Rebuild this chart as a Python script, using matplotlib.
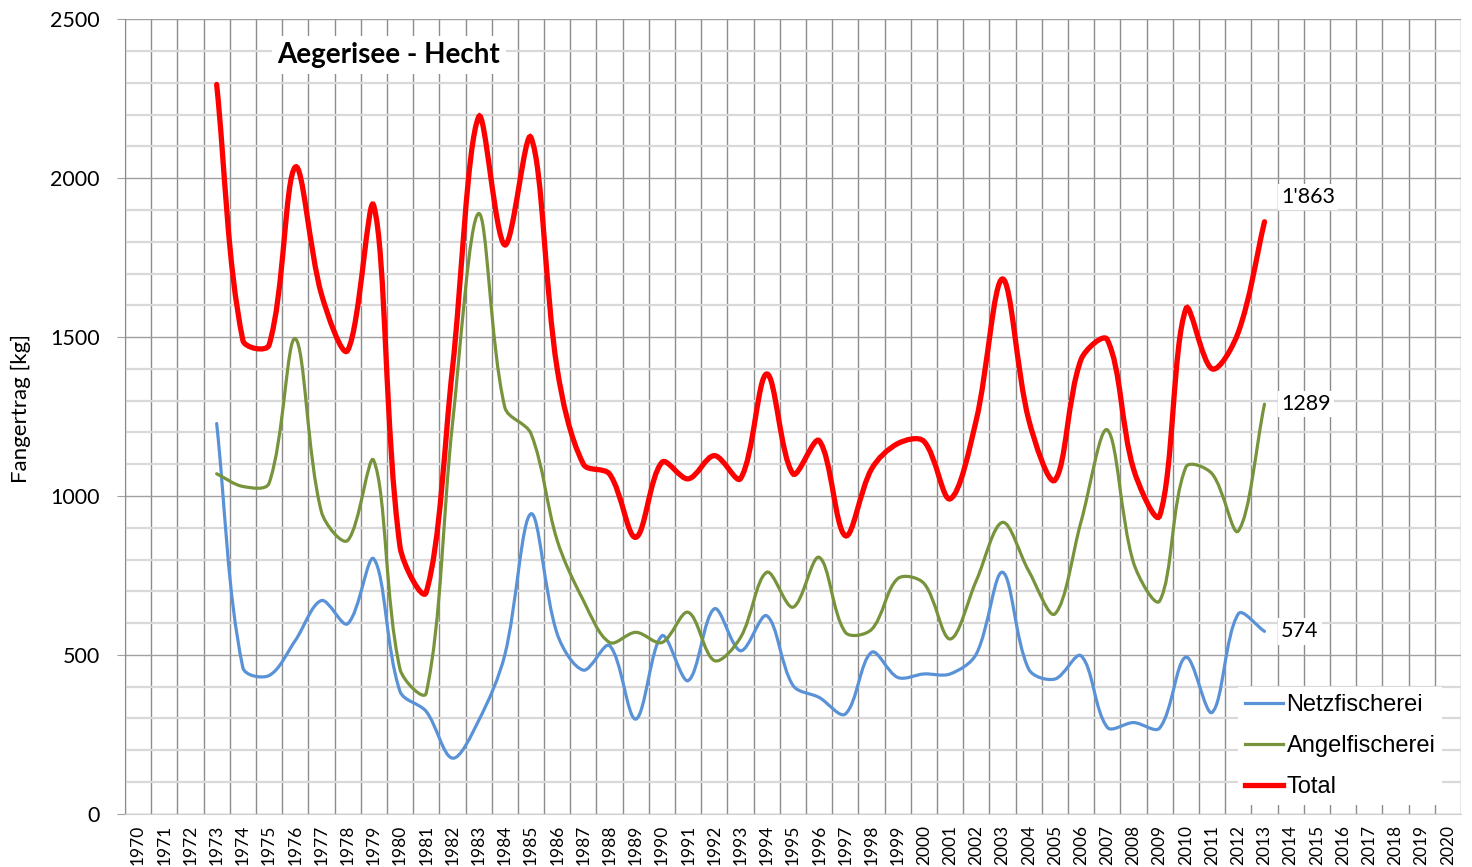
import numpy as np
import matplotlib.pyplot as plt
from matplotlib.path import Path
from matplotlib.patches import PathPatch
from matplotlib.lines import Line2D
from matplotlib.ticker import MultipleLocator

# category axis 1970..2020, data 1973..2013
axis_years = list(range(1970, 2021))
data_years = list(range(1973, 2014))

netz = [1228, 460, 435, 545, 671, 598, 802, 385, 322, 175, 293, 500, 944, 566,
        452, 529, 298, 560, 419, 645, 513, 623, 404, 366, 314, 508, 429, 440,
        440, 503, 760, 455, 424, 497, 272, 287, 270, 493, 319, 629, 574]
angel = [1070, 1030, 1040, 1495, 950, 860, 1111, 455, 380, 1225, 1889, 1279, 1196,
         860, 671, 539, 571, 539, 634, 482, 555, 760, 650, 807, 571, 580, 740, 725,
         550, 734, 917, 764, 629, 920, 1208, 790, 670, 1091, 1070, 890, 1289]
total = [2295, 1490, 1475, 2035, 1635, 1458, 1913, 840, 697, 1400, 2193, 1790, 2128,
         1400, 1100, 1069, 870, 1106, 1054, 1127, 1055, 1384, 1070, 1174, 875, 1085,
         1165, 1172, 991, 1240, 1683, 1240, 1050, 1430, 1492, 1085, 938, 1589, 1400,
         1515, 1863]

end_labels = ["574", "1289", "1'863"]

# pixel size of one x step / one y unit, used for the smoothing weights
PX_X = 26.2
PX_Y = 0.3178


def smooth_path(x, y, t=1 / 3):
    # Excel-like smoothed line: bezier segments, tangent split by screen distance
    x = np.asarray(x, float)
    y = np.asarray(y, float)
    n = len(x)

    def dist(i, j):
        return np.hypot((x[j] - x[i]) * PX_X, (y[j] - y[i]) * PX_Y)

    c_in = [None] * n
    c_out = [None] * n
    for i in range(n):
        a = max(i - 1, 0)
        c = min(i + 1, n - 1)
        dx, dy = x[c] - x[a], y[c] - y[a]
        d1 = dist(a, i) if i > 0 else 0.0
        d2 = dist(i, c) if i < n - 1 else 0.0
        s = d1 + d2
        if s == 0:
            s = 1.0
        c_out[i] = (x[i] + dx * t * d2 / s, y[i] + dy * t * d2 / s)
        c_in[i] = (x[i] - dx * t * d1 / s, y[i] - dy * t * d1 / s)
    verts = [(x[0], y[0])]
    codes = [Path.MOVETO]
    for i in range(n - 1):
        verts += [c_out[i], c_in[i + 1], (x[i + 1], y[i + 1])]
        codes += [Path.CURVE4] * 3
    return Path(verts, codes)


fig = plt.figure(figsize=(14.72, 8.67), dpi=100)
ax = fig.add_axes([0.0849, 0.0614, 0.9076, 0.9163])

xpos = [axis_years.index(yr) for yr in data_years]

series = [
    ("Netzfischerei", netz, "#5a92d8", 2.3),
    ("Angelfischerei", angel, "#77933c", 2.3),
    ("Total", total, "#ff0000", 3.8),
]

handles = []
for name, vals, col, lw in series:
    ax.add_patch(PathPatch(smooth_path(xpos, vals), facecolor="none",
                           edgecolor=col, lw=lw, capstyle="round", zorder=3))
    handles.append(Line2D([], [], color=col, lw=lw, label=name))

# end labels
offsets = [(12, 0), (12, 0), (12, 18)]
for (name, vals, col, lw), txt, off in zip(series, end_labels, offsets):
    ax.annotate(txt, (xpos[-1], vals[-1]), xytext=off, textcoords="offset points",
                ha="left", va="center", fontsize=15.5, family="Lato", zorder=5,
                bbox=dict(boxstyle="square,pad=0.15", fc="white", ec="none"))

ax.set_xlim(-0.5, len(axis_years) - 0.5)
ax.set_ylim(0, 2500)

ax.set_xticks(range(len(axis_years)))
ax.set_xticklabels([str(y) for y in axis_years], rotation=90, fontsize=12.5, family="Lato")
ax.set_xticks(np.arange(-0.5, len(axis_years), 1), minor=True)
ax.tick_params(axis="x", which="both", length=0, pad=8)
ax.grid(True, axis="x", which="minor", color="#8c8c8c", lw=1)

ax.yaxis.set_major_locator(MultipleLocator(500))
ax.yaxis.set_minor_locator(MultipleLocator(100))
ax.grid(True, axis="y", which="minor", color="#d9d9d9", lw=1.6)
ax.grid(True, axis="y", which="major", color="#a0a0a0", lw=1)
ax.tick_params(axis="y", which="major", length=6, color="#a0a0a0", pad=12,
               labelsize=15.5)
ax.tick_params(axis="y", which="minor", length=0)
for lab in ax.get_yticklabels():
    lab.set_family("Lato")
ax.set_axisbelow(True)

ax.set_ylabel("Fangertrag [kg]", fontsize=16, family="Lato")
ax.yaxis.set_label_coords(-0.07, 0.51)

for s in ["top", "right"]:
    ax.spines[s].set_visible(False)
ax.spines["left"].set_color("#8c8c8c")
ax.spines["bottom"].set_color("#d0d0d0")

fig.text(389 / 1472, 1 - 55 / 867, "Aegerisee - Hecht", ha="center", va="center",
         fontsize=20, fontweight="bold", family="Lato",
         bbox=dict(boxstyle="square,pad=0.2", fc="white", ec="none"))

leg = ax.legend(handles=handles, loc="lower right", bbox_to_anchor=(0.995, -0.004),
                frameon=True, fancybox=False, edgecolor="none", framealpha=1,
                prop={"family": "Liberation Sans", "size": 17},
                handlelength=1.6, handletextpad=0.15, labelspacing=0.8,
                borderpad=0.3)

plt.savefig("out.png", dpi=100)
